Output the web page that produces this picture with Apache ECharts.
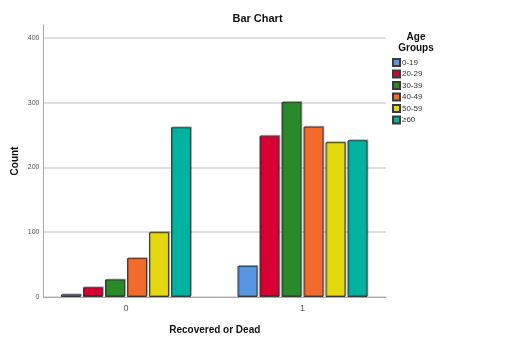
<!DOCTYPE html>
<html><head><meta charset="utf-8">
<script src="https://cdn.jsdelivr.net/npm/echarts@6/dist/echarts.min.js"></script>
<style>html,body{margin:0;padding:0;background:#fff}#c{width:515px;height:346px}</style>
</head><body><div id="c"></div>
<script>
const categories = ['0', '1'];
const groups = ['0-19', '20-29', '30-39', '40-49', '50-59', '≥60'];
const v0_19 = [4, 48];
const v20_29 = [15, 249];
const v30_39 = [27, 301];
const v40_49 = [60, 263];
const v50_59 = [100, 239];
const v60 = [262, 242];
const yTicks = [0, 100, 200, 300, 400];
const colors = ['#5896e2', '#d60032', '#2a8a2a', '#f26b2b', '#e4d80f', '#00b2a0'];
const values = [v0_19, v20_29, v30_39, v40_49, v50_59, v60];

const chart = echarts.init(document.getElementById('c'));
const font = 'Liberation Sans, Arial, sans-serif';
chart.setOption({
  animation: false,
  title: [
    { text: 'Bar Chart', left: 'center', top: 8, textStyle: { fontFamily: font, fontSize: 11, fontWeight: 'bold', color: '#111' } },
    { text: 'Age\nGroups', left: 411, textAlign: 'center', top: 27, textStyle: { fontFamily: font, fontSize: 10, fontWeight: 'bold', color: '#111', lineHeight: 11 } }
  ],
  legend: {
    orient: 'vertical', left: 392, top: 58, padding: 0, itemWidth: 7, itemHeight: 7, itemGap: 2.5,
    icon: 'rect',
    textStyle: { fontFamily: font, fontSize: 8, lineHeight: 9, color: '#333', padding: [0, 0, 0, -3] },
    data: groups
  },
  grid: { left: 43.5, right: 129, top: 25, bottom: 49 },
  xAxis: {
    type: 'value', min: -0.467, max: 1.473,
    name: 'Recovered or Dead', nameLocation: 'middle', nameGap: 28, nameMoveOverlap: false,
    nameTextStyle: { fontFamily: font, fontSize: 10, fontWeight: 'bold', color: '#111' },
    axisLine: { show: true, onZero: false, lineStyle: { color: '#aaa', width: 1 } },
    axisTick: { show: false },
    splitLine: { show: false },
    axisLabel: { fontFamily: font, fontSize: 9, color: '#555', margin: 7,
      customValues: categories.map(Number), formatter: v => String(v) }
  },
  yAxis: {
    type: 'value', min: 0, max: 420,
    name: 'Count', nameLocation: 'middle', nameGap: 23, nameMoveOverlap: false,
    nameTextStyle: { fontFamily: font, fontSize: 10, fontWeight: 'bold', color: '#111' },
    axisLine: { show: true, onZero: false, lineStyle: { color: '#aaa', width: 1 } },
    axisTick: { show: false },
    axisLabel: { fontFamily: font, fontSize: 7, color: '#555', margin: 4, customValues: yTicks },
    splitLine: { show: true, showMaxLine: false, lineStyle: { color: '#dedede', width: 2 } }
  },
  series: groups.map((g, i) => ({
    name: g, type: 'bar',
    data: categories.map((c, j) => [Number(c), values[i][j]]),
    barWidth: 20, barGap: '10%',
    itemStyle: { color: colors[i], borderColor: '#3a3a3a', borderWidth: 1,
      shadowColor: 'rgba(0,0,0,0.25)', shadowOffsetX: 1, shadowOffsetY: -1 }
  }))
});
</script></body></html>
